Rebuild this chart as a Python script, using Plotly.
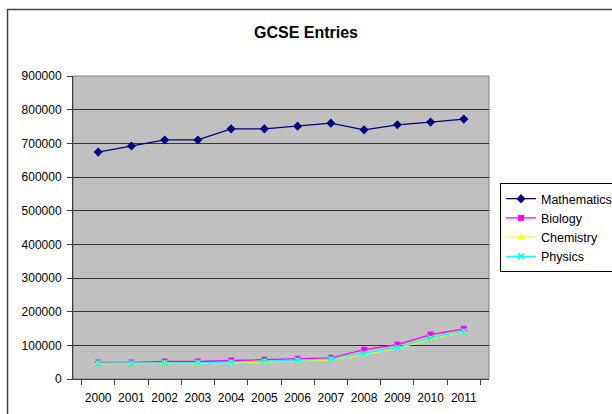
import plotly.graph_objects as go

years = ["2000", "2001", "2002", "2003", "2004", "2005", "2006", "2007", "2008", "2009", "2010", "2011"]
mathematics = [674000, 692000, 710000, 710000, 743000, 743000, 751000, 760000, 740000, 755000, 763000, 772000]
biology = [49000, 49000, 52000, 52000, 55000, 57000, 60000, 63000, 87000, 102000, 132000, 149000]
chemistry = [46000, 46000, 47000, 47000, 48000, 51000, 54000, 57000, 73000, 91000, 119000, 140000]
physics = [47000, 47000, 48000, 48000, 50000, 53000, 56000, 59000, 76000, 93000, 122000, 142000]

W, H = 612, 414
L, R, T, B = 73, 489, 76, 379

fig = go.Figure()
fig.add_trace(go.Scatter(x=years, y=mathematics, name="Mathematics", mode="lines+markers",
                         line=dict(color="#000080", width=1.3),
                         marker=dict(symbol="diamond", size=7, color="#000080")))
fig.add_trace(go.Scatter(x=years, y=biology, name="Biology", mode="lines+markers",
                         line=dict(color="#FF00FF", width=1.3),
                         marker=dict(symbol="square", size=6, color="#FF00FF")))
fig.add_trace(go.Scatter(x=years, y=chemistry, name="Chemistry", mode="lines+markers",
                         line=dict(color="#FFFF00", width=1.3),
                         marker=dict(symbol="triangle-up", size=7, color="#FFFF00")))
fig.add_trace(go.Scatter(x=years, y=physics, name="Physics", mode="lines+markers",
                         line=dict(color="#00FFFF", width=1.3),
                         marker=dict(symbol="x-thin", size=6, color="#00FFFF",
                                     line=dict(color="#00FFFF", width=1.5))))

pw, ph = R - L, B - T

def px(x):
    return (x - L) / pw

def py(y):
    return (B - y) / ph

fig.update_layout(
    width=W, height=H,
    margin=dict(l=L, r=W - R, t=T, b=H - B, autoexpand=False),
    paper_bgcolor="white",
    plot_bgcolor="#C0C0C0",
    font=dict(family="Liberation Sans, Arial, sans-serif", size=12, color="black"),
    title=dict(text="<b>GCSE Entries</b>", x=0.5, xref="container", xanchor="center",
               y=1 - 32 / H, yref="container", yanchor="middle",
               font=dict(size=16, color="black")),
    showlegend=True,
    legend=dict(x=px(500), y=py(183), xanchor="left", yanchor="top",
                bordercolor="black", borderwidth=1, bgcolor="white",
                font=dict(size=12.5), tracegroupgap=0, itemwidth=30),
    xaxis=dict(type="category", showgrid=False, showline=True, linecolor="#404040", linewidth=1,
               ticks="outside", tickson="boundaries", ticklen=5, tickcolor="#404040",
               tickangle=0, automargin=False, zeroline=False, tickfont=dict(size=12),
               ticklabelstandoff=8),
    yaxis=dict(range=[0, 900000], dtick=100000, tickformat="d", showgrid=True,
               gridcolor="#333333", gridwidth=1, showline=True, linecolor="#404040", linewidth=1,
               ticks="outside", ticklen=5, tickcolor="#404040", zeroline=False, automargin=False,
               tickfont=dict(size=12), ticklabelstandoff=3),
    shapes=[
        dict(type="rect", xref="paper", yref="paper", x0=0, x1=1, y0=0, y1=1,
             line=dict(color="#808080", width=1), layer="below"),
        dict(type="rect", xref="paper", yref="paper", x0=px(7.5), x1=px(640),
             y0=py(440), y1=py(9.5), line=dict(color="#404040", width=1.5)),
    ],
)

fig.write_html("out.html", config={"displayModeBar": False},
               post_script="document.body.style.margin='0';document.body.style.overflow='hidden';")
